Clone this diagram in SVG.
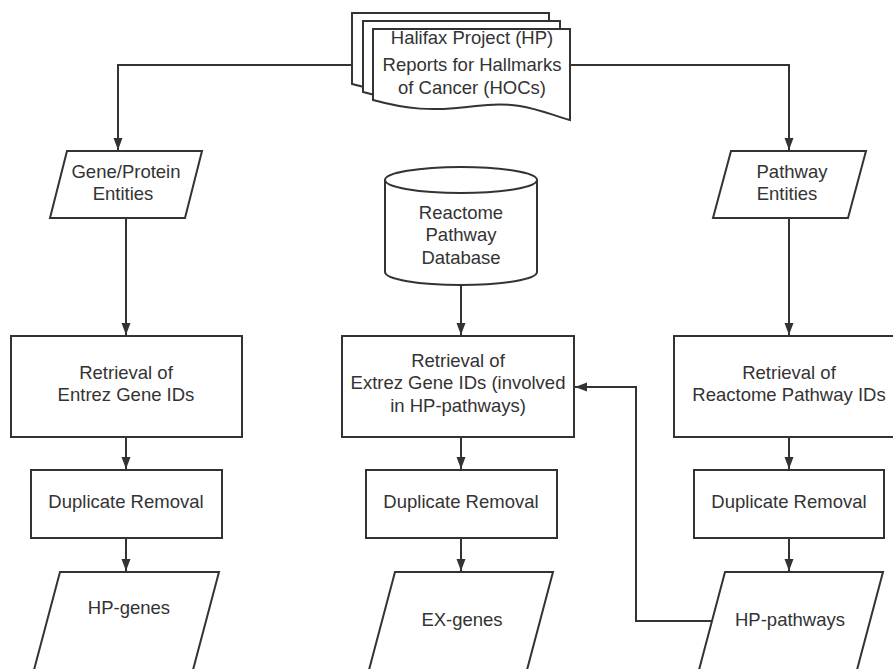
<svg xmlns="http://www.w3.org/2000/svg" width="893" height="669" viewBox="0 0 893 669">
<style>
.s{fill:#fff;stroke:#333;stroke-width:2;stroke-linejoin:miter}
.t{font-family:"Liberation Sans",Arial,sans-serif;font-size:18.5px;fill:#333;text-anchor:middle}
.c{fill:none;stroke:#333;stroke-width:2}
</style>
<defs>
<marker id="ah" markerUnits="userSpaceOnUse" markerWidth="12" markerHeight="12" viewBox="0 0 12 12" refX="12" refY="6" orient="auto">
<path d="M0,1.5 L12,6 L0,10.5 Z" fill="#333"/>
</marker>
</defs>
<rect width="893" height="669" fill="#fff"/>
<g id="connectors">
<path class="c" d="M352,65 H118 V150" marker-end="url(#ah)"/>
<path class="c" d="M570,65 H789 V150" marker-end="url(#ah)"/>
<path class="c" d="M126,218 V335" marker-end="url(#ah)"/>
<path class="c" d="M461,285 V335" marker-end="url(#ah)"/>
<path class="c" d="M789,218 V335" marker-end="url(#ah)"/>
<path class="c" d="M126,437 V469" marker-end="url(#ah)"/>
<path class="c" d="M461,437 V469" marker-end="url(#ah)"/>
<path class="c" d="M789,437 V469" marker-end="url(#ah)"/>
<path class="c" d="M126,538 V571" marker-end="url(#ah)"/>
<path class="c" d="M461,538 V571" marker-end="url(#ah)"/>
<path class="c" d="M789,538 V571" marker-end="url(#ah)"/>
<path class="c" d="M712,621 H636 V387 H575" marker-end="url(#ah)"/>
</g>
<g id="hp-reports">
<path class="s" d="M352,13 H549 V104 C520,96 500,84 455,90 C410,96 385,93 352,84 Z"/>
<path class="s" d="M363,21 H560 V112 C531,104 511,92 466,98 C421,104 396,101 363,92 Z"/>
<path class="s" d="M373,29 H570 V120 C541,112 521,100 476,106 C431,112 406,109 373,100 Z"/>
<text class="t" x="472" y="44">Halifax Project (HP)</text>
<text class="t" x="472" y="71">Reports for Hallmarks</text>
<text class="t" x="472" y="94">of Cancer (HOCs)</text>
</g>
<g id="gene-protein">
<path class="s" d="M67,151 H202 L185,218 H50 Z"/>
<text class="t" x="126" y="178">Gene/Protein</text>
<text class="t" x="123" y="200">Entities</text>
</g>
<g id="reactome-db">
<path class="s" d="M385,180 V272 A76,13 0 0 0 537,272 V180"/>
<ellipse class="s" cx="461" cy="180" rx="76" ry="13"/>
<text class="t" x="461" y="219">Reactome</text>
<text class="t" x="461" y="241">Pathway</text>
<text class="t" x="461" y="264">Database</text>
</g>
<g id="pathway-entities">
<path class="s" d="M731,151 H866 L848,218 H713 Z"/>
<text class="t" x="792" y="178">Pathway</text>
<text class="t" x="787" y="200">Entities</text>
</g>
<g id="retrieval-entrez">
<rect class="s" x="11" y="336" width="231" height="101"/>
<text class="t" x="126" y="379">Retrieval of</text>
<text class="t" x="126" y="401">Entrez Gene IDs</text>
</g>
<g id="retrieval-extrez">
<rect class="s" x="342" y="336" width="232" height="101"/>
<text class="t" x="458" y="367">Retrieval of</text>
<text class="t" x="458" y="389">Extrez Gene IDs (involved</text>
<text class="t" x="458" y="412">in HP-pathways)</text>
</g>
<g id="retrieval-reactome">
<rect class="s" x="674" y="336" width="230" height="101"/>
<text class="t" x="789" y="379">Retrieval of</text>
<text class="t" x="789" y="401">Reactome Pathway IDs</text>
</g>
<g id="dup-1">
<rect class="s" x="31" y="470" width="191" height="68"/>
<text class="t" x="126" y="508">Duplicate Removal</text>
</g>
<g id="dup-2">
<rect class="s" x="366" y="470" width="191" height="68"/>
<text class="t" x="461" y="508">Duplicate Removal</text>
</g>
<g id="dup-3">
<rect class="s" x="694" y="470" width="190" height="68"/>
<text class="t" x="789" y="508">Duplicate Removal</text>
</g>
<g id="hp-genes">
<path class="s" d="M60,572 H219 L185,700 H26 Z"/>
<text class="t" x="129" y="614">HP-genes</text>
</g>
<g id="ex-genes">
<path class="s" d="M395,572 H553 L519,700 H361 Z"/>
<text class="t" x="462" y="626">EX-genes</text>
</g>
<g id="hp-pathways">
<path class="s" d="M725,572 H883 L849,700 H691 Z"/>
<text class="t" x="790" y="626">HP-pathways</text>
</g>
</svg>
